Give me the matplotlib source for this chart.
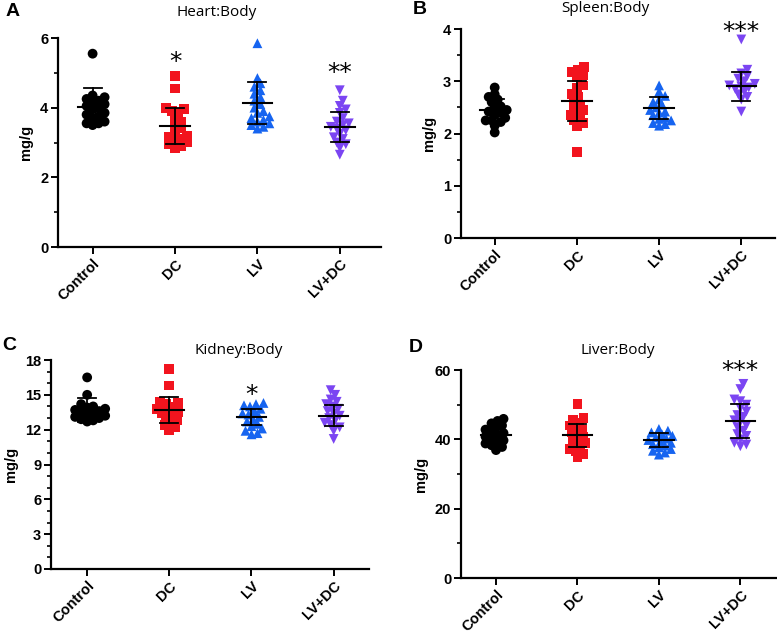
import numpy as np
import matplotlib
matplotlib.use("Agg")
import matplotlib.pyplot as plt
from matplotlib.ticker import MultipleLocator

groups = ["Control", "DC", "LV", "LV+DC"]
colors = ["#000000", "#f2141e", "#1664f0", "#7b45f2"]
markers = ["o", "s", "^", "v"]

# ---- Heart:Body ----
heart_control = [5.55, 4.35, 4.3, 4.25, 4.2, 4.15, 4.1, 4.05, 4.0, 3.95, 3.85, 3.8, 3.75, 3.7, 3.6, 3.55, 3.55, 3.5]
heart_dc = [4.9, 4.55, 4.0, 3.95, 3.9, 3.85, 3.7, 3.6, 3.5, 3.4, 3.3, 3.2, 3.15, 3.1, 3.05, 3.0, 2.95, 2.9, 2.85]
heart_lv = [5.85, 4.85, 4.7, 4.6, 4.5, 4.4, 4.3, 4.2, 4.1, 4.0, 3.9, 3.85, 3.75, 3.7, 3.65, 3.6, 3.55, 3.5, 3.45, 3.4]
heart_lvdc = [4.5, 4.2, 4.05, 3.95, 3.85, 3.7, 3.6, 3.55, 3.5, 3.45, 3.4, 3.35, 3.25, 3.15, 3.1, 3.0, 2.95, 2.85, 2.65]
heart_mean = [4.03, 3.48, 4.13, 3.45]
heart_sd = [0.54, 0.52, 0.60, 0.43]

# ---- Spleen:Body ----
spleen_control = [2.88, 2.75, 2.7, 2.65, 2.6, 2.52, 2.5, 2.45, 2.42, 2.4, 2.35, 2.3, 2.25, 2.25, 2.22, 2.15, 2.02]
spleen_dc = [3.27, 3.22, 3.17, 3.12, 3.08, 2.92, 2.88, 2.75, 2.7, 2.62, 2.55, 2.5, 2.45, 2.4, 2.35, 2.3, 2.25, 2.2, 2.15, 1.65]
spleen_lv = [2.92, 2.8, 2.72, 2.65, 2.6, 2.55, 2.5, 2.45, 2.42, 2.4, 2.35, 2.3, 2.28, 2.25, 2.2, 2.18, 2.15]
spleen_lvdc = [3.8, 3.22, 3.15, 3.1, 3.05, 3.0, 2.95, 2.92, 2.9, 2.88, 2.85, 2.8, 2.75, 2.7, 2.65, 2.42]
spleen_mean = [2.45, 2.62, 2.49, 2.90]
spleen_sd = [0.21, 0.39, 0.21, 0.28]

# ---- Kidney:Body ----
kidney_control = [16.5, 15.0, 14.2, 14.0, 13.9, 13.8, 13.7, 13.6, 13.5, 13.4, 13.3, 13.2, 13.1, 13.0, 12.9, 12.8, 12.7]
kidney_dc = [17.2, 15.8, 14.4, 14.3, 14.2, 14.0, 13.8, 13.6, 13.5, 13.4, 13.2, 13.0, 12.8, 12.6, 12.4, 12.2, 12.0]
kidney_lv = [14.3, 14.2, 14.1, 14.0, 13.8, 13.6, 13.4, 13.3, 13.1, 12.9, 12.7, 12.5, 12.3, 12.1, 11.9, 11.7, 11.6]
kidney_lvdc = [15.4, 15.0, 14.6, 14.4, 14.2, 14.0, 13.8, 13.6, 13.4, 13.2, 13.0, 12.8, 12.6, 12.4, 12.2, 11.9, 11.2]
kidney_mean = [13.7, 13.7, 13.1, 13.2]
kidney_sd = [1.0, 1.1, 0.7, 0.9]

# ---- Liver:Body ----
liver_control = [45.9, 45.3, 44.6, 44.0, 43.4, 42.8, 42.2, 41.8, 41.3, 40.8, 40.3, 39.7, 39.2, 38.8, 38.3, 37.8, 36.9]
liver_dc = [50.2, 46.1, 45.5, 44.8, 44.0, 43.3, 42.6, 42.0, 41.4, 40.8, 40.1, 39.5, 38.9, 38.3, 37.7, 37.1, 36.5, 35.8, 34.8]
liver_lv = [43.0, 42.5, 42.0, 41.5, 41.0, 40.6, 40.2, 39.8, 39.4, 39.0, 38.6, 38.2, 37.7, 37.2, 36.7, 36.2, 35.6]
liver_lvdc = [56.0, 54.5, 51.5, 51.0, 50.0, 49.0, 48.0, 47.0, 46.5, 45.5, 45.0, 44.0, 43.5, 42.5, 41.5, 41.0, 40.0, 39.0, 38.5, 38.0]
liver_mean = [41.3, 41.2, 39.8, 45.4]
liver_sd = [2.3, 3.3, 2.1, 4.9]

stars_heart = ["", "*", "", "**"]
stars_spleen = ["", "", "", "***"]
stars_kidney = ["", "", "*", ""]
stars_liver = ["", "", "", "***"]

W, H = 777, 635
fig = plt.figure(figsize=(W / 100, H / 100), dpi=100)

FS = 10.5
tickfont = dict(family="Liberation Sans", weight="bold", size=FS)


def px_axes(l, r, t, b):
    return fig.add_axes([l / W, 1 - b / H, (r - l) / W, (b - t) / H])


def swarm_offsets(ax, xc, vals, diam):
    tr = ax.transData
    placed = []
    out = np.zeros(len(vals))
    order = np.argsort(vals)
    step = 1.5
    mind = diam * 0.6
    for i in order:
        xp, yp = tr.transform((xc, vals[i]))
        chosen = xp
        for k in range(0, 80):
            found = False
            for s in ([0] if k == 0 else [1, -1]):
                cand = xp + s * k * step
                if all((cand - a) ** 2 + (yp - b) ** 2 >= mind ** 2 for a, b in placed):
                    chosen = cand
                    found = True
                    break
            if found:
                break
        placed.append((chosen, yp))
        out[i] = tr.inverted().transform((chosen, yp))[0]
    return out


def panel(box, data, means, sds, ymax, major, minor, xlim, stars, star_y):
    ax = px_axes(*box)
    ax.set_xlim(*xlim)
    ax.set_ylim(0, ymax)
    for sp in ["top", "right"]:
        ax.spines[sp].set_visible(False)
    for sp in ["left", "bottom"]:
        ax.spines[sp].set_linewidth(1.6)
    ax.yaxis.set_major_locator(MultipleLocator(major))
    ax.yaxis.set_minor_locator(MultipleLocator(minor))
    ax.tick_params(axis="both", which="major", width=1.4, length=5, direction="out", pad=2)
    ax.tick_params(axis="y", which="minor", width=1.2, length=3, direction="out")
    ax.set_xticks(range(len(groups)))
    ax.set_xticklabels(groups, rotation=45, ha="right", rotation_mode="anchor", **tickfont)
    for lab in ax.get_yticklabels():
        lab.set_fontfamily("Liberation Sans")
        lab.set_fontweight("bold")
        lab.set_fontsize(FS)
    ax.set_ylabel("mg/g", fontfamily="Liberation Sans", fontweight="bold", fontsize=FS, labelpad=5)
    for i, vals in enumerate(data):
        xs = swarm_offsets(ax, i, np.array(vals, dtype=float), 10.0)
        ax.scatter(xs, vals, s=50, marker=markers[i], color=colors[i], edgecolors="none",
                   zorder=3, clip_on=False)
        m, sd = means[i], sds[i]
        ax.plot([i - 0.18, i + 0.18], [m, m], color="black", lw=1.5, zorder=4)
        ax.plot([i, i], [m - sd, m + sd], color="black", lw=1.3, zorder=4)
        for yv in (m - sd, m + sd):
            ax.plot([i - 0.11, i + 0.11], [yv, yv], color="black", lw=1.3, zorder=4)
        if stars[i]:
            ax.text(i, star_y[i], stars[i], ha="center", va="center", fontsize=18,
                    fontfamily="DejaVu Sans", clip_on=False)
    return ax


axA = panel((58, 381, 38, 247), [heart_control, heart_dc, heart_lv, heart_lvdc],
            heart_mean, heart_sd, 6, 2, 1, (-0.42, 3.5), stars_heart,
            [0, 5.3, 0, 5.0])
axB = panel((461, 775, 29, 238), [spleen_control, spleen_dc, spleen_lv, spleen_lvdc],
            spleen_mean, spleen_sd, 4, 1, 0.5, (-0.41, 3.41), stars_spleen,
            [0, 0, 0, 3.95])
axC = panel((51, 369, 360, 569), [kidney_control, kidney_dc, kidney_lv, kidney_lvdc],
            kidney_mean, kidney_sd, 18, 3, 1, (-0.44, 3.43), stars_kidney,
            [0, 0, 15.0, 0])
axD = panel((461, 777, 370, 578), [liver_control, liver_dc, liver_lv, liver_lvdc],
            liver_mean, liver_sd, 60, 20, 10, (-0.43, 3.45), stars_liver,
            [0, 0, 0, 59.8])

titlefont = dict(family="Open Sans", size=11, ha="center", va="center")
fig.text(217 / W, 1 - 12 / H, "Heart:Body", **titlefont)
fig.text(605 / W, 1 - 9 / H, "Spleen:Body", **titlefont)
fig.text(239 / W, 1 - 350 / H, "Kidney:Body", **titlefont)
fig.text(618 / W, 1 - 350 / H, "Liver:Body", **titlefont)

letterfont = dict(family="Liberation Sans", weight="bold", size=14, ha="center", va="center")
fig.text(13 / W, 1 - 12 / H, "A", **letterfont)
fig.text(420 / W, 1 - 10 / H, "B", **letterfont)
fig.text(9 / W, 1 - 345 / H, "C", **letterfont)
fig.text(416 / W, 1 - 347 / H, "D", **letterfont)

fig.savefig("out.png", dpi=100)
